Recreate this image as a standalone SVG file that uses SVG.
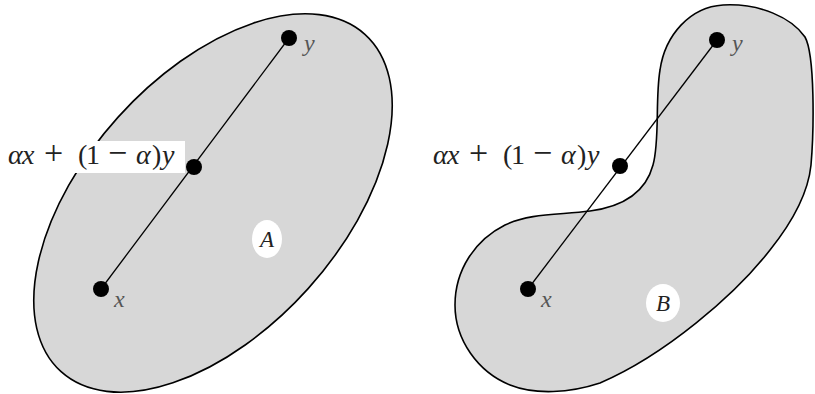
<svg xmlns="http://www.w3.org/2000/svg" width="815" height="394" viewBox="0 0 815 394">
<style>
.region{fill:#d7d7d7;stroke:#000;stroke-width:1.6}
.seg{stroke:#000;stroke-width:1.3;fill:none}
.dot{fill:#000}
.lbl{font-family:"Liberation Serif","Times New Roman",serif;font-size:28px;fill:#222}
.op{font-size:34px}
.pt{font-family:"Liberation Serif","Times New Roman",serif;font-size:24px;font-style:italic;fill:#555}
.nm{font-family:"Liberation Serif","Times New Roman",serif;font-size:23px;font-style:italic;fill:#222}
.it{font-style:italic}
.tag{fill:#fff}
</style>
<rect width="815" height="394" fill="#fff"/>
<g id="setA">
<ellipse class="region" cx="213" cy="203" rx="227" ry="128" transform="rotate(-48 213 203)"/>
<ellipse class="tag" cx="267" cy="239" rx="15" ry="19"/>
<text class="nm" x="267" y="247" text-anchor="middle">A</text>
</g>
<g id="setB">
<path class="region" d="M 723 5 C 760 3, 792 18, 805 37 C 815 55, 814 130, 811 165 C 808 195, 790 225, 770 250 C 735 295, 665 355, 600 383 C 570 393, 535 395, 510 385 C 478 372, 455 340, 455 305 C 455 270, 475 240, 505 225 C 530 213, 560 215, 590 211 C 620 207, 645 195, 653 165 C 660 140, 655 100, 660 70 C 665 35, 690 7, 723 5 Z"/>
<ellipse class="tag" cx="663" cy="303" rx="17" ry="19"/>
<text class="nm" x="663" y="311" text-anchor="middle">B</text>
</g>
<g id="connectors">
<line class="seg" x1="101" y1="289" x2="289" y2="38"/>
<line class="seg" x1="528" y1="289" x2="717" y2="40"/>
</g>
<g id="labelA">
<rect x="5" y="141" width="180" height="32" fill="#fff"/>
<text class="lbl" y="164"><tspan class="it" x="8">α</tspan><tspan class="it" x="22">x</tspan><tspan class="op" x="44">+</tspan><tspan x="78">(</tspan><tspan x="86">1</tspan><tspan class="op" x="108">−</tspan><tspan class="it" x="136">α</tspan><tspan x="152">)</tspan><tspan class="it" x="162">y</tspan></text>
</g>
<g id="labelB">
<text class="lbl" y="164"><tspan class="it" x="433">α</tspan><tspan class="it" x="447">x</tspan><tspan class="op" x="469">+</tspan><tspan x="503">(</tspan><tspan x="511">1</tspan><tspan class="op" x="533">−</tspan><tspan class="it" x="561">α</tspan><tspan x="577">)</tspan><tspan class="it" x="587">y</tspan></text>
</g>
<g id="pointsA">
<circle class="dot" cx="289" cy="38" r="8"/>
<text class="pt" x="304" y="51">y</text>
<circle class="dot" cx="194" cy="167" r="8"/>
<circle class="dot" cx="101" cy="289" r="8"/>
<text class="pt" x="114" y="307">x</text>
</g>
<g id="pointsB">
<circle class="dot" cx="717" cy="40" r="8"/>
<text class="pt" x="732" y="51">y</text>
<circle class="dot" cx="620" cy="166" r="8"/>
<circle class="dot" cx="528" cy="289" r="8"/>
<text class="pt" x="541" y="307">x</text>
</g>
</svg>
